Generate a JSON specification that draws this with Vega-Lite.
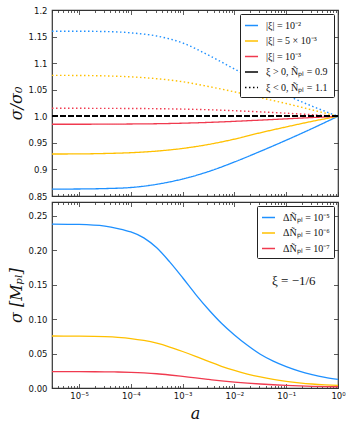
{
  "$schema": "https://vega.github.io/schema/vega-lite/v6.json",
  "padding": {"left": 7, "top": 5, "right": 10, "bottom": 5},
  "background": "white",
  "spacing": 6,
  "bounds": "flush",
  "config": {
    "view": {"stroke": "#333", "strokeWidth": 1.2},
    "font": "DejaVu Sans",
    "axis": {
      "labelFont": "DejaVu Sans", "labelFontSize": 8.5, "labelColor": "#111",
      "tickColor": "#333", "tickWidth": 0.8, "domain": false, "grid": false,
      "labelFlush": false, "labelOverlap": false,
      "titleFont": "DejaVu Serif", "titleFontStyle": "italic", "titleFontWeight": "normal",
      "titleFontSize": 16, "titleColor": "#111"
    },
    "legend": {
      "orient": "top-right", "offset": 4, "title": null, "padding": 4,
      "strokeColor": "#222", "fillColor": "white", "cornerRadius": 1,
      "symbolType": "stroke", "symbolSize": 170, "symbolStrokeWidth": 1.5,
      "labelFont": "Liberation Serif", "labelFontSize": 10, "labelColor": "#111",
      "rowPadding": 2.5, "labelOffset": 7
    }
  },
  "resolve": {"scale": {"color": "independent", "strokeDash": "independent", "x": "independent", "y": "independent"}},
  "vconcat": [
    {
      "width": 286,
      "height": 186,
      "data": {"values": [
        {"a": 3e-6, "s": 0.863, "mag": "|ξ| = 10⁻²", "sign": "pos"},
        {"a": 1e-5, "s": 0.8632, "mag": "|ξ| = 10⁻²", "sign": "pos"},
        {"a": 3.16e-5, "s": 0.864, "mag": "|ξ| = 10⁻²", "sign": "pos"},
        {"a": 1e-4, "s": 0.866, "mag": "|ξ| = 10⁻²", "sign": "pos"},
        {"a": 3.16e-4, "s": 0.872, "mag": "|ξ| = 10⁻²", "sign": "pos"},
        {"a": 1e-3, "s": 0.882, "mag": "|ξ| = 10⁻²", "sign": "pos"},
        {"a": 3.16e-3, "s": 0.896, "mag": "|ξ| = 10⁻²", "sign": "pos"},
        {"a": 0.01, "s": 0.914, "mag": "|ξ| = 10⁻²", "sign": "pos"},
        {"a": 0.0316, "s": 0.934, "mag": "|ξ| = 10⁻²", "sign": "pos"},
        {"a": 0.1, "s": 0.955, "mag": "|ξ| = 10⁻²", "sign": "pos"},
        {"a": 0.316, "s": 0.977, "mag": "|ξ| = 10⁻²", "sign": "pos"},
        {"a": 1, "s": 1.0, "mag": "|ξ| = 10⁻²", "sign": "pos"},
        {"a": 3e-6, "s": 0.929, "mag": "|ξ| = 5 × 10⁻³", "sign": "pos"},
        {"a": 1e-5, "s": 0.9292, "mag": "|ξ| = 5 × 10⁻³", "sign": "pos"},
        {"a": 3.16e-5, "s": 0.93, "mag": "|ξ| = 5 × 10⁻³", "sign": "pos"},
        {"a": 1e-4, "s": 0.9315, "mag": "|ξ| = 5 × 10⁻³", "sign": "pos"},
        {"a": 3.16e-4, "s": 0.9345, "mag": "|ξ| = 5 × 10⁻³", "sign": "pos"},
        {"a": 1e-3, "s": 0.9395, "mag": "|ξ| = 5 × 10⁻³", "sign": "pos"},
        {"a": 3.16e-3, "s": 0.947, "mag": "|ξ| = 5 × 10⁻³", "sign": "pos"},
        {"a": 0.01, "s": 0.957, "mag": "|ξ| = 5 × 10⁻³", "sign": "pos"},
        {"a": 0.0316, "s": 0.969, "mag": "|ξ| = 5 × 10⁻³", "sign": "pos"},
        {"a": 0.1, "s": 0.98, "mag": "|ξ| = 5 × 10⁻³", "sign": "pos"},
        {"a": 0.316, "s": 0.9905, "mag": "|ξ| = 5 × 10⁻³", "sign": "pos"},
        {"a": 1, "s": 1.0, "mag": "|ξ| = 5 × 10⁻³", "sign": "pos"},
        {"a": 3e-6, "s": 0.985, "mag": "|ξ| = 10⁻³", "sign": "pos"},
        {"a": 1e-5, "s": 0.985, "mag": "|ξ| = 10⁻³", "sign": "pos"},
        {"a": 3.16e-5, "s": 0.9852, "mag": "|ξ| = 10⁻³", "sign": "pos"},
        {"a": 1e-4, "s": 0.9855, "mag": "|ξ| = 10⁻³", "sign": "pos"},
        {"a": 3.16e-4, "s": 0.986, "mag": "|ξ| = 10⁻³", "sign": "pos"},
        {"a": 1e-3, "s": 0.987, "mag": "|ξ| = 10⁻³", "sign": "pos"},
        {"a": 3.16e-3, "s": 0.9885, "mag": "|ξ| = 10⁻³", "sign": "pos"},
        {"a": 0.01, "s": 0.9905, "mag": "|ξ| = 10⁻³", "sign": "pos"},
        {"a": 0.0316, "s": 0.9928, "mag": "|ξ| = 10⁻³", "sign": "pos"},
        {"a": 0.1, "s": 0.9952, "mag": "|ξ| = 10⁻³", "sign": "pos"},
        {"a": 0.316, "s": 0.9976, "mag": "|ξ| = 10⁻³", "sign": "pos"},
        {"a": 1, "s": 1.0, "mag": "|ξ| = 10⁻³", "sign": "pos"},
        {"a": 3e-6, "s": 1.16, "mag": "|ξ| = 10⁻²", "sign": "neg"},
        {"a": 1e-5, "s": 1.16, "mag": "|ξ| = 10⁻²", "sign": "neg"},
        {"a": 3.16e-5, "s": 1.1595, "mag": "|ξ| = 10⁻²", "sign": "neg"},
        {"a": 1e-4, "s": 1.157, "mag": "|ξ| = 10⁻²", "sign": "neg"},
        {"a": 3.16e-4, "s": 1.151, "mag": "|ξ| = 10⁻²", "sign": "neg"},
        {"a": 1e-3, "s": 1.138, "mag": "|ξ| = 10⁻²", "sign": "neg"},
        {"a": 3.16e-3, "s": 1.115, "mag": "|ξ| = 10⁻²", "sign": "neg"},
        {"a": 0.01, "s": 1.089, "mag": "|ξ| = 10⁻²", "sign": "neg"},
        {"a": 0.0316, "s": 1.064, "mag": "|ξ| = 10⁻²", "sign": "neg"},
        {"a": 0.1, "s": 1.04, "mag": "|ξ| = 10⁻²", "sign": "neg"},
        {"a": 0.316, "s": 1.019, "mag": "|ξ| = 10⁻²", "sign": "neg"},
        {"a": 1, "s": 1.0, "mag": "|ξ| = 10⁻²", "sign": "neg"},
        {"a": 3e-6, "s": 1.077, "mag": "|ξ| = 5 × 10⁻³", "sign": "neg"},
        {"a": 1e-5, "s": 1.0768, "mag": "|ξ| = 5 × 10⁻³", "sign": "neg"},
        {"a": 3.16e-5, "s": 1.076, "mag": "|ξ| = 5 × 10⁻³", "sign": "neg"},
        {"a": 1e-4, "s": 1.0742, "mag": "|ξ| = 5 × 10⁻³", "sign": "neg"},
        {"a": 3.16e-4, "s": 1.0707, "mag": "|ξ| = 5 × 10⁻³", "sign": "neg"},
        {"a": 1e-3, "s": 1.065, "mag": "|ξ| = 5 × 10⁻³", "sign": "neg"},
        {"a": 3.16e-3, "s": 1.056, "mag": "|ξ| = 5 × 10⁻³", "sign": "neg"},
        {"a": 0.01, "s": 1.046, "mag": "|ξ| = 5 × 10⁻³", "sign": "neg"},
        {"a": 0.0316, "s": 1.035, "mag": "|ξ| = 5 × 10⁻³", "sign": "neg"},
        {"a": 0.1, "s": 1.024, "mag": "|ξ| = 5 × 10⁻³", "sign": "neg"},
        {"a": 0.316, "s": 1.012, "mag": "|ξ| = 5 × 10⁻³", "sign": "neg"},
        {"a": 1, "s": 1.0, "mag": "|ξ| = 5 × 10⁻³", "sign": "neg"},
        {"a": 3e-6, "s": 1.015, "mag": "|ξ| = 10⁻³", "sign": "neg"},
        {"a": 1e-5, "s": 1.015, "mag": "|ξ| = 10⁻³", "sign": "neg"},
        {"a": 3.16e-5, "s": 1.0149, "mag": "|ξ| = 10⁻³", "sign": "neg"},
        {"a": 1e-4, "s": 1.0147, "mag": "|ξ| = 10⁻³", "sign": "neg"},
        {"a": 3.16e-4, "s": 1.0143, "mag": "|ξ| = 10⁻³", "sign": "neg"},
        {"a": 1e-3, "s": 1.0135, "mag": "|ξ| = 10⁻³", "sign": "neg"},
        {"a": 3.16e-3, "s": 1.0123, "mag": "|ξ| = 10⁻³", "sign": "neg"},
        {"a": 0.01, "s": 1.0105, "mag": "|ξ| = 10⁻³", "sign": "neg"},
        {"a": 0.0316, "s": 1.0083, "mag": "|ξ| = 10⁻³", "sign": "neg"},
        {"a": 0.1, "s": 1.0058, "mag": "|ξ| = 10⁻³", "sign": "neg"},
        {"a": 0.316, "s": 1.003, "mag": "|ξ| = 10⁻³", "sign": "neg"},
        {"a": 1, "s": 1.0, "mag": "|ξ| = 10⁻³", "sign": "neg"}
      ]},
      "layer": [
        {
          "transform": [{"filter": "datum.sign == 'pos'"}],
          "mark": {"type": "line", "interpolate": "monotone", "strokeWidth": 1.3},
          "encoding": {
            "x": {"field": "a", "type": "quantitative",
              "scale": {"type": "log", "domain": [3e-6, 1], "nice": false},
              "axis": {"orient": "bottom", "labels": false, "title": null,
                "values": [3e-6,4e-6,5e-6,6e-6,7e-6,8e-6,9e-6,1e-5,2e-5,3e-5,4e-5,5e-5,6e-5,7e-5,8e-5,9e-5,1e-4,2e-4,3e-4,4e-4,5e-4,6e-4,7e-4,8e-4,9e-4,1e-3,2e-3,3e-3,4e-3,5e-3,6e-3,7e-3,8e-3,9e-3,0.01,0.02,0.03,0.04,0.05,0.06,0.07,0.08,0.09,0.1,0.2,0.3,0.4,0.5,0.6,0.7,0.8,0.9,1],
                "tickSize": {"condition": {"test": "abs(log(datum.value)/LN10 - round(log(datum.value)/LN10)) < 0.001", "value": -4.5}, "value": -2.5}}},
            "y": {"field": "s", "type": "quantitative",
              "scale": {"domain": [0.85, 1.2], "nice": false, "zero": false},
              "axis": {"orient": "left", "values": [0.85, 0.9, 0.95, 1, 1.05, 1.1, 1.15, 1.2],
                "labelExpr": "datum.value == 1 ? '1.0' : format(datum.value, '.3~g')",
                "title": "σ/σ₀", "tickSize": -4.5, "labelPadding": 9.5, "titlePadding": 4}},
            "color": {"field": "mag", "type": "nominal",
              "scale": {"domain": ["|ξ| = 10⁻²", "|ξ| = 5 × 10⁻³", "|ξ| = 10⁻³", "ξ > 0,  Ñₚₗ = 0.9", "ξ < 0,  Ñₚₗ = 1.1"],
                "range": ["#1e90ff", "#ffc000", "#f03a4f", "#000000", "#000000"]},
              "legend": {"orient": "top-right"}},
            "strokeDash": {"field": "mag", "type": "nominal",
              "scale": {"domain": ["|ξ| = 10⁻²", "|ξ| = 5 × 10⁻³", "|ξ| = 10⁻³", "ξ > 0,  Ñₚₗ = 0.9", "ξ < 0,  Ñₚₗ = 1.1"],
                "range": [[1, 0], [1, 0], [1, 0], [1, 0], [1.5, 2.5]]},
              "legend": {"orient": "top-right"}}
          }
        },
        {
          "transform": [{"filter": "datum.sign == 'neg'"}],
          "mark": {"type": "line", "interpolate": "monotone", "strokeDash": [1.5, 2.5], "strokeWidth": 1.4},
          "encoding": {
            "x": {"field": "a", "type": "quantitative",
              "axis": {"orient": "top", "labels": false, "title": null,
                "values": [3e-6,4e-6,5e-6,6e-6,7e-6,8e-6,9e-6,1e-5,2e-5,3e-5,4e-5,5e-5,6e-5,7e-5,8e-5,9e-5,1e-4,2e-4,3e-4,4e-4,5e-4,6e-4,7e-4,8e-4,9e-4,1e-3,2e-3,3e-3,4e-3,5e-3,6e-3,7e-3,8e-3,9e-3,0.01,0.02,0.03,0.04,0.05,0.06,0.07,0.08,0.09,0.1,0.2,0.3,0.4,0.5,0.6,0.7,0.8,0.9,1],
                "tickSize": {"condition": {"test": "abs(log(datum.value)/LN10 - round(log(datum.value)/LN10)) < 0.001", "value": -4.5}, "value": -2.5}}},
            "y": {"field": "s", "type": "quantitative",
              "axis": {"orient": "right", "labels": false, "title": null,
                "values": [0.85, 0.9, 0.95, 1, 1.05, 1.1, 1.15, 1.2], "tickSize": -4.5}},
            "color": {"field": "mag", "type": "nominal", "legend": null}
          }
        },
        {
          "mark": {"type": "rule", "color": "#000000", "strokeDash": [5.5, 2.5], "strokeWidth": 1.2},
          "encoding": {"y": {"datum": 1, "type": "quantitative", "axis": null}}
        }
      ],
      "resolve": {"axis": {"x": "independent", "y": "independent"}}
    },
    {
      "width": 286,
      "height": 186,
      "layer": [
        {
          "data": {"values": [
            {"a": 3e-6, "s": 0.238, "dn": "ΔÑₚₗ = 10⁻⁵"},
            {"a": 1e-5, "s": 0.2375, "dn": "ΔÑₚₗ = 10⁻⁵"},
            {"a": 3.16e-5, "s": 0.235, "dn": "ΔÑₚₗ = 10⁻⁵"},
            {"a": 5.62e-5, "s": 0.2315, "dn": "ΔÑₚₗ = 10⁻⁵"},
            {"a": 1e-4, "s": 0.2265, "dn": "ΔÑₚₗ = 10⁻⁵"},
            {"a": 1.78e-4, "s": 0.218, "dn": "ΔÑₚₗ = 10⁻⁵"},
            {"a": 3.16e-4, "s": 0.2035, "dn": "ΔÑₚₗ = 10⁻⁵"},
            {"a": 5.62e-4, "s": 0.183, "dn": "ΔÑₚₗ = 10⁻⁵"},
            {"a": 1e-3, "s": 0.16, "dn": "ΔÑₚₗ = 10⁻⁵"},
            {"a": 1.78e-3, "s": 0.136, "dn": "ΔÑₚₗ = 10⁻⁵"},
            {"a": 3.16e-3, "s": 0.114, "dn": "ΔÑₚₗ = 10⁻⁵"},
            {"a": 5.62e-3, "s": 0.094, "dn": "ΔÑₚₗ = 10⁻⁵"},
            {"a": 0.01, "s": 0.077, "dn": "ΔÑₚₗ = 10⁻⁵"},
            {"a": 0.0178, "s": 0.062, "dn": "ΔÑₚₗ = 10⁻⁵"},
            {"a": 0.0316, "s": 0.049, "dn": "ΔÑₚₗ = 10⁻⁵"},
            {"a": 0.0562, "s": 0.039, "dn": "ΔÑₚₗ = 10⁻⁵"},
            {"a": 0.1, "s": 0.031, "dn": "ΔÑₚₗ = 10⁻⁵"},
            {"a": 0.178, "s": 0.0245, "dn": "ΔÑₚₗ = 10⁻⁵"},
            {"a": 0.316, "s": 0.0195, "dn": "ΔÑₚₗ = 10⁻⁵"},
            {"a": 0.562, "s": 0.0155, "dn": "ΔÑₚₗ = 10⁻⁵"},
            {"a": 1, "s": 0.0125, "dn": "ΔÑₚₗ = 10⁻⁵"},
            {"a": 3e-6, "s": 0.0755, "dn": "ΔÑₚₗ = 10⁻⁶"},
            {"a": 1e-5, "s": 0.0753, "dn": "ΔÑₚₗ = 10⁻⁶"},
            {"a": 3.16e-5, "s": 0.0745, "dn": "ΔÑₚₗ = 10⁻⁶"},
            {"a": 5.62e-5, "s": 0.0735, "dn": "ΔÑₚₗ = 10⁻⁶"},
            {"a": 1e-4, "s": 0.0718, "dn": "ΔÑₚₗ = 10⁻⁶"},
            {"a": 1.78e-4, "s": 0.069, "dn": "ΔÑₚₗ = 10⁻⁶"},
            {"a": 3.16e-4, "s": 0.065, "dn": "ΔÑₚₗ = 10⁻⁶"},
            {"a": 5.62e-4, "s": 0.0595, "dn": "ΔÑₚₗ = 10⁻⁶"},
            {"a": 1e-3, "s": 0.053, "dn": "ΔÑₚₗ = 10⁻⁶"},
            {"a": 1.78e-3, "s": 0.046, "dn": "ΔÑₚₗ = 10⁻⁶"},
            {"a": 3.16e-3, "s": 0.0385, "dn": "ΔÑₚₗ = 10⁻⁶"},
            {"a": 5.62e-3, "s": 0.0315, "dn": "ΔÑₚₗ = 10⁻⁶"},
            {"a": 0.01, "s": 0.0255, "dn": "ΔÑₚₗ = 10⁻⁶"},
            {"a": 0.0178, "s": 0.0203, "dn": "ΔÑₚₗ = 10⁻⁶"},
            {"a": 0.0316, "s": 0.016, "dn": "ΔÑₚₗ = 10⁻⁶"},
            {"a": 0.0562, "s": 0.0125, "dn": "ΔÑₚₗ = 10⁻⁶"},
            {"a": 0.1, "s": 0.0097, "dn": "ΔÑₚₗ = 10⁻⁶"},
            {"a": 0.178, "s": 0.0075, "dn": "ΔÑₚₗ = 10⁻⁶"},
            {"a": 0.316, "s": 0.0058, "dn": "ΔÑₚₗ = 10⁻⁶"},
            {"a": 0.562, "s": 0.0046, "dn": "ΔÑₚₗ = 10⁻⁶"},
            {"a": 1, "s": 0.0037, "dn": "ΔÑₚₗ = 10⁻⁶"},
            {"a": 3e-6, "s": 0.0238, "dn": "ΔÑₚₗ = 10⁻⁷"},
            {"a": 1e-5, "s": 0.0237, "dn": "ΔÑₚₗ = 10⁻⁷"},
            {"a": 3.16e-5, "s": 0.0235, "dn": "ΔÑₚₗ = 10⁻⁷"},
            {"a": 5.62e-5, "s": 0.0232, "dn": "ΔÑₚₗ = 10⁻⁷"},
            {"a": 1e-4, "s": 0.0227, "dn": "ΔÑₚₗ = 10⁻⁷"},
            {"a": 1.78e-4, "s": 0.0219, "dn": "ΔÑₚₗ = 10⁻⁷"},
            {"a": 3.16e-4, "s": 0.0207, "dn": "ΔÑₚₗ = 10⁻⁷"},
            {"a": 5.62e-4, "s": 0.0189, "dn": "ΔÑₚₗ = 10⁻⁷"},
            {"a": 1e-3, "s": 0.0168, "dn": "ΔÑₚₗ = 10⁻⁷"},
            {"a": 1.78e-3, "s": 0.0146, "dn": "ΔÑₚₗ = 10⁻⁷"},
            {"a": 3.16e-3, "s": 0.0125, "dn": "ΔÑₚₗ = 10⁻⁷"},
            {"a": 5.62e-3, "s": 0.0104, "dn": "ΔÑₚₗ = 10⁻⁷"},
            {"a": 0.01, "s": 0.0086, "dn": "ΔÑₚₗ = 10⁻⁷"},
            {"a": 0.0178, "s": 0.0071, "dn": "ΔÑₚₗ = 10⁻⁷"},
            {"a": 0.0316, "s": 0.0058, "dn": "ΔÑₚₗ = 10⁻⁷"},
            {"a": 0.0562, "s": 0.0047, "dn": "ΔÑₚₗ = 10⁻⁷"},
            {"a": 0.1, "s": 0.0038, "dn": "ΔÑₚₗ = 10⁻⁷"},
            {"a": 0.178, "s": 0.0031, "dn": "ΔÑₚₗ = 10⁻⁷"},
            {"a": 0.316, "s": 0.0025, "dn": "ΔÑₚₗ = 10⁻⁷"},
            {"a": 0.562, "s": 0.0021, "dn": "ΔÑₚₗ = 10⁻⁷"},
            {"a": 1, "s": 0.0018, "dn": "ΔÑₚₗ = 10⁻⁷"}
          ]},
          "mark": {"type": "line", "interpolate": "monotone", "strokeWidth": 1.3},
          "encoding": {
            "x": {"field": "a", "type": "quantitative",
              "scale": {"type": "log", "domain": [3e-6, 1], "nice": false},
              "axis": {"orient": "bottom", "title": "a", "titlePadding": 4, "labelPadding": 7.5,
                "values": [3e-6,4e-6,5e-6,6e-6,7e-6,8e-6,9e-6,1e-5,2e-5,3e-5,4e-5,5e-5,6e-5,7e-5,8e-5,9e-5,1e-4,2e-4,3e-4,4e-4,5e-4,6e-4,7e-4,8e-4,9e-4,1e-3,2e-3,3e-3,4e-3,5e-3,6e-3,7e-3,8e-3,9e-3,0.01,0.02,0.03,0.04,0.05,0.06,0.07,0.08,0.09,0.1,0.2,0.3,0.4,0.5,0.6,0.7,0.8,0.9,1],
                "labelExpr": "datum.value == 1 ? '10⁰' : datum.value == 0.1 ? '10⁻¹' : datum.value == 0.01 ? '10⁻²' : datum.value == 0.001 ? '10⁻³' : datum.value == 0.0001 ? '10⁻⁴' : datum.value == 0.00001 ? '10⁻⁵' : ''",
                "tickSize": {"condition": {"test": "abs(log(datum.value)/LN10 - round(log(datum.value)/LN10)) < 0.001", "value": -4.5}, "value": -2.5}}},
            "y": {"field": "s", "type": "quantitative",
              "scale": {"domain": [0, 0.27], "nice": false},
              "axis": {"orient": "left", "values": [0, 0.05, 0.1, 0.15, 0.2, 0.25], "format": ".2f",
                "title": "σ [Mₚₗ]", "tickSize": -4.5, "labelPadding": 9.5, "titlePadding": 4}},
            "color": {"field": "dn", "type": "nominal",
              "scale": {"domain": ["ΔÑₚₗ = 10⁻⁵", "ΔÑₚₗ = 10⁻⁶", "ΔÑₚₗ = 10⁻⁷"], "range": ["#1e90ff", "#ffc000", "#f03a4f"]},
              "legend": {"orient": "top-right"}}
          }
        },
        {
          "data": {"values": [{}]},
          "mark": {"type": "text", "text": "ξ = −1/6", "font": "Liberation Serif", "fontSize": 13, "color": "#111", "align": "center", "baseline": "middle"},
          "encoding": {
            "x": {"datum": 0.14, "type": "quantitative",
              "axis": {"orient": "top", "labels": false, "title": null,
                "values": [3e-6,4e-6,5e-6,6e-6,7e-6,8e-6,9e-6,1e-5,2e-5,3e-5,4e-5,5e-5,6e-5,7e-5,8e-5,9e-5,1e-4,2e-4,3e-4,4e-4,5e-4,6e-4,7e-4,8e-4,9e-4,1e-3,2e-3,3e-3,4e-3,5e-3,6e-3,7e-3,8e-3,9e-3,0.01,0.02,0.03,0.04,0.05,0.06,0.07,0.08,0.09,0.1,0.2,0.3,0.4,0.5,0.6,0.7,0.8,0.9,1],
                "tickSize": {"condition": {"test": "abs(log(datum.value)/LN10 - round(log(datum.value)/LN10)) < 0.001", "value": -4.5}, "value": -2.5}}},
            "y": {"datum": 0.155, "type": "quantitative",
              "axis": {"orient": "right", "labels": false, "title": null,
                "values": [0, 0.05, 0.1, 0.15, 0.2, 0.25], "tickSize": -4.5}}
          }
        }
      ],
      "resolve": {"axis": {"x": "independent", "y": "independent"}}
    }
  ]
}
